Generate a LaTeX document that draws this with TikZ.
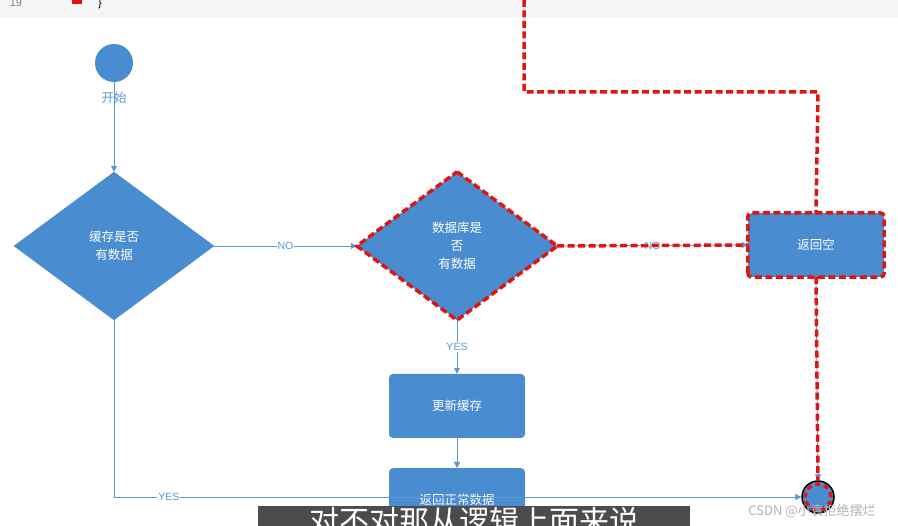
\documentclass[tikz,border=0pt]{standalone}
\usepackage{fontspec}
\setmainfont{Liberation Sans}
\newfontfamily\cjk{Noto Sans CJK SC}
\usetikzlibrary{shapes.geometric,arrows.meta}
\definecolor{fblue}{RGB}{74,140,208}
\definecolor{lblue}{RGB}{90,150,210}
\definecolor{rd}{RGB}{225,20,20}
\tikzset{
 flow/.style={draw=lblue,line width=0.8pt,-{Triangle[width=6pt,length=6pt]}},
 dia/.style={diamond,fill=fblue,draw=fblue,minimum width=200pt,minimum height=148pt,inner sep=0pt,aspect=1.35,text=white,align=center,font=\cjk\fontsize{12.5}{18}\selectfont},
 box/.style={rectangle,rounded corners=4pt,fill=fblue,minimum width=136pt,minimum height=64pt,text=white,font=\cjk\fontsize{12.5}{14}\selectfont},
 hl/.style={draw=rd,line width=3.5pt,dash pattern=on 7pt off 3.5pt},
 lbl/.style={fill=white,inner sep=1pt,text=lblue,font=\fontsize{10.5}{11}\selectfont}
}
\begin{document}
\begin{tikzpicture}[x=1pt,y=-1pt]
\useasboundingbox (0,0) rectangle (898,526);
\fill[white] (0,0) rectangle (898,526);
\fill[gray!8] (0,0) rectangle (898,17);
\node[text=gray,font=\fontsize{11}{11}\selectfont] (ln) at (16,3) {19};
\fill[rd] (72,0) rectangle (82,4);
\node[font=\fontsize{11}{11}\selectfont] (br) at (100,4) {\}};
\node[circle,fill=fblue,minimum size=38pt,inner sep=0] (start) at (114,63) {};
\node[fill=white,inner sep=1pt,text=lblue,font=\cjk\fontsize{12.5}{13}\selectfont] (startl) at (114,98) {开始};
\node[dia] (d1) at (114,246) {缓存是否\\有数据};
\node[dia] (d2) at (457,246) {数据库是\\否\\有数据};
\node[box] (empty) at (816,245) {返回空};
\node[box] (upd) at (457,406) {更新缓存};
\node[box,anchor=north] (ret) at (457,468) {返回正常数据};
\node[circle,fill=fblue,draw=black,line width=1.5pt,minimum size=32pt,inner sep=0] (end) at (818,497) {};
\draw[flow] (start) -- (d1);
\draw[flow] (d1.east) -- node[lbl]{NO} (d2.west);
\draw[flow] (d2.south) -- node[lbl]{YES} (upd.north);
\draw[flow] (upd) -- (ret);
\draw[flow] (empty.south) -- (end.north);
\draw[flow] (d1.south) |- node[lbl,pos=0.54]{YES} (end.west);
\draw[flow] (d2.east) -- node[lbl,pos=0.5]{NO} (empty.west);
% highlight
\draw[hl] (524,0) -- (524,92) -- (818,92) -- (empty.north);
\draw[hl] (d2.north) -- (d2.east) -- (d2.south) -- (d2.west) -- cycle;
\draw[hl] (d2.east) -- (empty.west);
\draw[hl,rounded corners=4pt] (empty.south west) rectangle (empty.north east);
\draw[hl] (empty.south) -- (end.north);
\draw[hl,dash pattern=on 5pt off 4pt] (end) circle (13pt);
% subtitle
\fill[black!70] (258,506) rectangle (690,526);
\node[text=white,font=\cjk\fontsize{30}{30}\selectfont,anchor=north] (sub) at (474,504) {对不对那从逻辑上面来说};
\node[text=gray!60,font=\cjk\fontsize{13}{13}\selectfont] (wm) at (812,511) {CSDN @小袁拒绝摆烂};
\end{tikzpicture}
\end{document}
